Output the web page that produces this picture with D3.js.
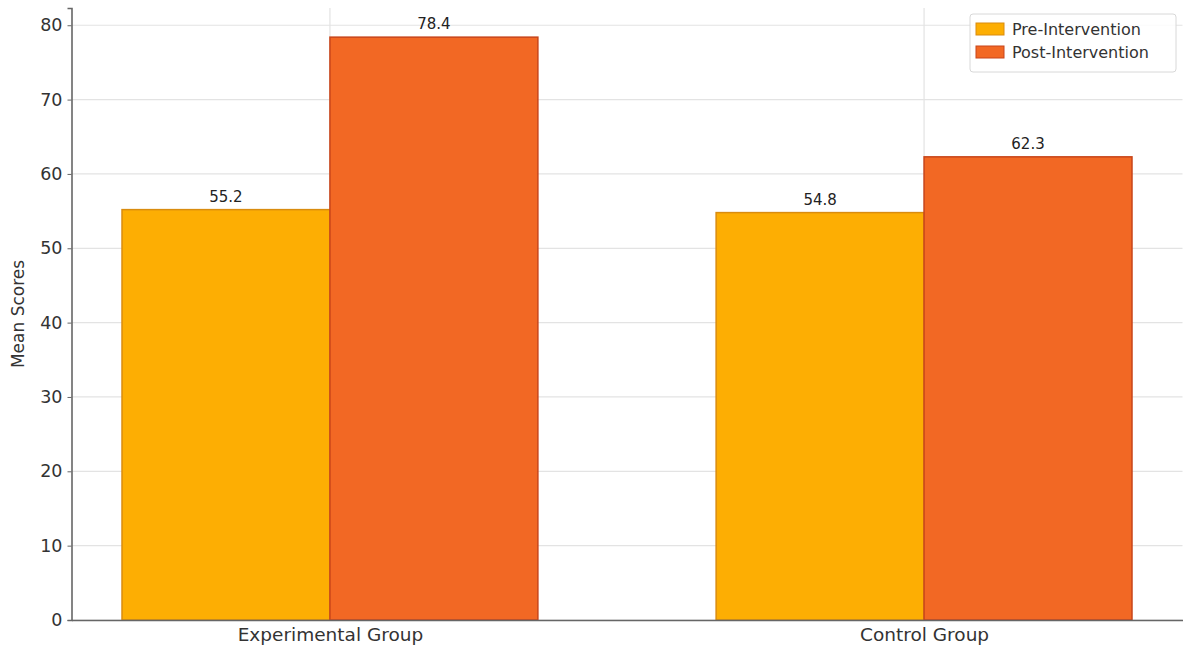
<!DOCTYPE html>
<html><head><meta charset="utf-8">
<script src="https://cdn.jsdelivr.net/npm/d3@7/dist/d3.min.js"></script>
<style>body{margin:0;background:#fff}svg{display:block}text{font-family:"DejaVu Sans",sans-serif}</style>
</head><body><svg id="c" width="1183" height="649"></svg>
<script>
const categories = ["Experimental Group", "Control Group"];
const seriesNames = ["Pre-Intervention", "Post-Intervention"];
const preValues = [55.2, 54.8];
const postValues = [78.4, 62.3];
const yTicks = [0, 10, 20, 30, 40, 50, 60, 70, 80];

const fills = ["#FDAE03", "#F26824"];
const edges = ["#D98C10", "#C8451A"];

const svg = d3.select("#c");
const m = {l: 71.5, r: 0.5, t: 8, b: 29};
const W = 1183, H = 649;
const iw = W - m.l - m.r, ih = H - m.t - m.b;
const g = svg.append("g").attr("transform", `translate(${m.l},${m.t})`);

const barW = 0.35;
const x = d3.scaleLinear().domain([-0.435, 1.435]).range([0, iw]);
const y = d3.scaleLinear().domain([0, 82.32]).range([ih, 0]);

// grid
g.append("g").selectAll("line").data(yTicks).join("line")
  .attr("x1", 0).attr("x2", iw).attr("y1", d => y(d)).attr("y2", d => y(d))
  .attr("stroke", "#e3e3e3").attr("stroke-width", 1.2);
g.append("g").selectAll("line").data(categories).join("line")
  .attr("x1", (d, i) => x(i)).attr("x2", (d, i) => x(i)).attr("y1", 0).attr("y2", ih)
  .attr("stroke", "#e3e3e3").attr("stroke-width", 1.2);

const series = [preValues, postValues];
series.forEach((vals, s) => {
  const off = s === 0 ? -barW : 0;
  g.append("g").selectAll("rect").data(vals).join("rect")
    .attr("x", (d, i) => x(i + off))
    .attr("width", x(barW) - x(0))
    .attr("y", d => y(d)).attr("height", d => ih - y(d))
    .attr("fill", fills[s]).attr("stroke", edges[s]).attr("stroke-width", 1.5);
  g.append("g").selectAll("text").data(vals).join("text")
    .attr("x", (d, i) => x(i + off + barW / 2))
    .attr("y", d => y(d) - 8)
    .attr("text-anchor", "middle").attr("font-size", 15).attr("fill", "#222")
    .text(d => d.toFixed(1));
});

// axes
const ya = g.append("g").call(d3.axisLeft(y).tickValues(yTicks).tickSize(4).tickPadding(5));
ya.selectAll("text").attr("font-size", 17.5).attr("fill", "#333");
ya.select(".domain").attr("stroke", "#666").attr("stroke-width", 1.6);
ya.selectAll(".tick line").attr("stroke", "#666");

const xa = g.append("g").attr("transform", `translate(0,${ih})`)
  .call(d3.axisBottom(x).tickValues([0, 1]).tickFormat((d) => categories[d]).tickSize(0).tickPadding(8));
xa.selectAll("text").attr("font-size", 18.5).attr("fill", "#333");
xa.select(".domain").attr("stroke", "#666").attr("stroke-width", 1.6);

svg.append("text").attr("transform", `translate(24,${m.t + ih / 2}) rotate(-90)`)
  .attr("text-anchor", "middle").attr("font-size", 17).attr("fill", "#333").text("Mean Scores");

// legend
const lg = svg.append("g").attr("transform", "translate(970,14)");
lg.append("rect").attr("width", 206).attr("height", 58).attr("rx", 3)
  .attr("fill", "#fff").attr("fill-opacity", 0.85).attr("stroke", "#d8d8d8");
seriesNames.forEach((n, i) => {
  lg.append("rect").attr("x", 6).attr("y", 9 + i * 23).attr("width", 28).attr("height", 12)
    .attr("fill", fills[i]).attr("stroke", edges[i]).attr("stroke-width", 1);
  lg.append("text").attr("x", 42).attr("y", 21 + i * 23).attr("font-size", 16).attr("fill", "#333").text(n);
});
</script></body></html>
